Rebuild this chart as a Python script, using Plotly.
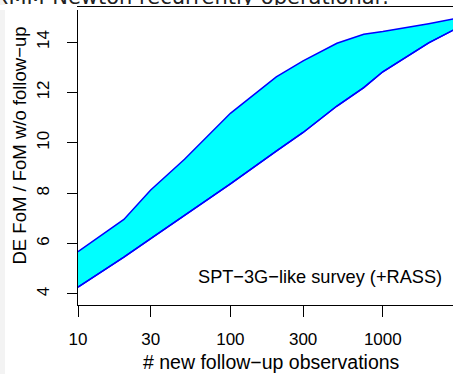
import plotly.graph_objects as go

# data
n_obs = [10, 20, 30, 50, 100, 200, 300, 500, 750, 1000, 2000, 3000]
fom_low = [4.27, 5.46, 6.20, 7.12, 8.37, 9.67, 10.41, 11.46, 12.19, 12.82, 13.97, 14.52]
fom_high = [5.68, 6.96, 8.13, 9.35, 11.17, 12.62, 13.25, 13.95, 14.31, 14.42, 14.73, 14.93]

x_tickvals = [10, 30, 100, 300, 1000]
x_ticktext = ["10", "30", "100", "300", "1000"]
y_tickvals = [4, 6, 8, 10, 12, 14]

FONT = "Liberation Sans, Arial, Helvetica, sans-serif"
BLUE = "#0000FF"
CYAN = "#00FFFF"

W, H = 453, 374
ML, MR, MT, MB = 78, 0, 6, 69
PW, PH = W - ML - MR, H - MT - MB


def px_x(p):
    return (p - ML) / PW


def px_y(p):
    return (H - MB - p) / PH


fig = go.Figure()
fig.add_trace(go.Scatter(x=n_obs, y=fom_low, mode="lines",
                         line=dict(color=BLUE, width=1.5), showlegend=False))
fig.add_trace(go.Scatter(x=n_obs, y=fom_high, mode="lines", fill="tonexty",
                         fillcolor=CYAN, line=dict(color=BLUE, width=1.5),
                         showlegend=False))
fig.add_trace(go.Scatter(x=n_obs, y=fom_low, mode="lines",
                         line=dict(color=BLUE, width=1.5), showlegend=False))

fig.update_layout(
    width=W, height=H,
    margin=dict(l=ML, r=MR, t=MT, b=MB),
    paper_bgcolor="white", plot_bgcolor="white",
    font=dict(family=FONT, size=17, color="black"),
    xaxis=dict(type="log", range=[1, 3.4606], tickvals=x_tickvals, ticktext=x_ticktext,
               showline=True, linecolor="black", linewidth=1.3, mirror=True,
               ticks="outside", ticklen=11, tickwidth=1.3, tickcolor="black",
               ticklabelstandoff=7,
               showgrid=False, zeroline=False,
               tickfont=dict(family=FONT, size=17, color="black")),
    yaxis=dict(range=[3.563, 15.43], tickvals=y_tickvals,
               showline=True, linecolor="black", linewidth=1.3,
               ticks="outside", ticklen=10, tickwidth=1.3, tickcolor="black",
               tickangle=-90, ticklabelstandoff=11,
               showgrid=False, zeroline=False,
               tickfont=dict(family=FONT, size=17, color="black")),
    annotations=[
        dict(text="SPT\u22123G\u2212like survey (+RASS)", xref="paper", yref="paper",
             x=px_x(444), y=px_y(277), xanchor="right", yanchor="middle", showarrow=False,
             font=dict(family=FONT, size=18.2, color="black")),
        dict(text="# new follow\u2212up observations", xref="paper", yref="paper",
             x=px_x(271.5), y=px_y(362), xanchor="center", yanchor="middle", showarrow=False,
             font=dict(family=FONT, size=19.5, color="black")),
        dict(text="DE FoM / FoM w/o follow\u2212up", xref="paper", yref="paper",
             x=px_x(18.5), y=px_y(146), xanchor="center", yanchor="middle", textangle=-90,
             showarrow=False, font=dict(family=FONT, size=18.5, color="black")),
        dict(text="XMM-Newton recurrently operational?", xref="paper", yref="paper",
             x=px_x(-8), y=px_y(11), xanchor="left", yanchor="bottom", showarrow=False,
             font=dict(family="DejaVu Sans", size=21, color="#222222")),
        # white strip hiding the descenders of the cut-off heading
        dict(text=" ", xref="paper", yref="paper", x=px_x(0), y=px_y(4.6),
             xanchor="left", yanchor="top", width=W, height=5, borderpad=0,
             borderwidth=0, bgcolor="white", showarrow=False, font=dict(size=1)),
        # frame top edge redrawn over the strip
        dict(text=" ", xref="paper", yref="paper", x=px_x(ML - 0.65), y=1,
             xanchor="left", yanchor="middle", width=PW + 1, height=1.3, borderpad=0,
             borderwidth=0, bgcolor="black", showarrow=False, font=dict(size=1)),
    ],
    shapes=[
        dict(type="rect", xref="paper", yref="paper", x0=px_x(0), x1=px_x(5),
             y0=px_y(H + 5), y1=px_y(-5), fillcolor="#f3f3f3", line=dict(width=0),
             layer="below"),
    ],
)

fig.write_html("out.html")
